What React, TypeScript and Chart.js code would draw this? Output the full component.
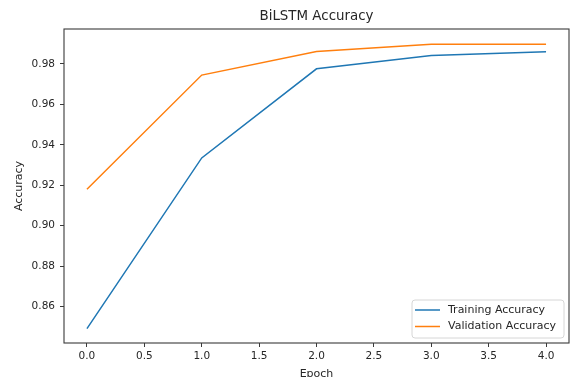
import React, { useEffect, useRef } from "react";
import { Chart, registerables } from "chart.js";

Chart.register(...registerables);

const epochs = [0, 1, 2, 3, 4];
const trainingAccuracy = [0.849, 0.9335, 0.9776, 0.9842, 0.9861];
const validationAccuracy = [0.918, 0.9745, 0.9862, 0.9897, 0.9898];
const xTicks = [0, 0.5, 1, 1.5, 2, 2.5, 3, 3.5, 4];
const yTicks = [0.86, 0.88, 0.9, 0.92, 0.94, 0.96, 0.98];
const chartTitle = "BiLSTM Accuracy";

const FONT = "'DejaVu Sans', sans-serif";
const TEXT = "#262626";
const SPINE = "#3a3a3a";

const framePlugin = {
  id: "frame",
  afterDraw(chart: any) {
    const { ctx, chartArea } = chart;
    const { left, top, right, bottom } = chartArea;
    ctx.save();
    ctx.strokeStyle = SPINE;
    ctx.lineWidth = 1.1;
    ctx.strokeRect(left, top, right - left, bottom - top);

    // title centred over the plot area
    ctx.font = `13.4px ${FONT}`;
    ctx.fillStyle = TEXT;
    ctx.textAlign = "center";
    ctx.textBaseline = "middle";
    ctx.fillText(chartTitle, (left + right) / 2, 17);

    // legend box, lower right inside the plot
    const boxW = 152;
    const boxH = 38;
    const bx = right - 5 - boxW;
    const by = bottom - 5 - boxH;
    const r = 3;
    ctx.beginPath();
    ctx.moveTo(bx + r, by);
    ctx.lineTo(bx + boxW - r, by);
    ctx.quadraticCurveTo(bx + boxW, by, bx + boxW, by + r);
    ctx.lineTo(bx + boxW, by + boxH - r);
    ctx.quadraticCurveTo(bx + boxW, by + boxH, bx + boxW - r, by + boxH);
    ctx.lineTo(bx + r, by + boxH);
    ctx.quadraticCurveTo(bx, by + boxH, bx, by + boxH - r);
    ctx.lineTo(bx, by + r);
    ctx.quadraticCurveTo(bx, by, bx + r, by);
    ctx.closePath();
    ctx.fillStyle = "rgba(255,255,255,0.8)";
    ctx.fill();
    ctx.strokeStyle = "#d6d6d6";
    ctx.lineWidth = 1;
    ctx.stroke();

    ctx.font = `11px ${FONT}`;
    ctx.textBaseline = "middle";
    ctx.textAlign = "left";
    chart.data.datasets.forEach((ds: any, i: number) => {
      const yy = by + 10 + i * 16.5;
      ctx.strokeStyle = ds.borderColor;
      ctx.lineWidth = 1.5;
      ctx.beginPath();
      ctx.moveTo(bx + 3, yy);
      ctx.lineTo(bx + 28, yy);
      ctx.stroke();
      ctx.fillStyle = TEXT;
      ctx.fillText(ds.label, bx + 36, yy);
    });
    ctx.restore();
  },
};

export default function App() {
  const ref = useRef<HTMLCanvasElement | null>(null);

  useEffect(() => {
    document.body.style.margin = "0";
    const canvas = ref.current;
    if (!canvas) return;
    const chart = new Chart(canvas, {
      type: "line",
      data: {
        datasets: [
          {
            label: "Training Accuracy",
            data: epochs.map((e, i) => ({ x: e, y: trainingAccuracy[i] })),
            borderColor: "#1f77b4",
            backgroundColor: "#1f77b4",
            borderWidth: 1.5,
            pointRadius: 0,
            tension: 0,
          },
          {
            label: "Validation Accuracy",
            data: epochs.map((e, i) => ({ x: e, y: validationAccuracy[i] })),
            borderColor: "#ff7f0e",
            backgroundColor: "#ff7f0e",
            borderWidth: 1.5,
            pointRadius: 0,
            tension: 0,
          },
        ],
      },
      options: {
        animation: false,
        responsive: false,
        devicePixelRatio: 1,
        layout: { padding: { left: 0, right: 2, top: 29, bottom: 0 } },
        plugins: {
          legend: { display: false },
          tooltip: { enabled: false },
          title: { display: false },
        },
        scales: {
          x: {
            type: "linear",
            min: -0.2,
            max: 4.2,
            afterBuildTicks: (scale: any) => {
              scale.ticks = xTicks.map((v) => ({ value: v }));
            },
            afterFit: (scale: any) => {
              scale.height = 34;
            },
            ticks: {
              color: TEXT,
              font: { family: FONT, size: 10.5 },
              padding: 3,
              maxRotation: 0,
              autoSkip: false,
              callback: (v: any) => Number(v).toFixed(1),
            },
            grid: {
              color: "rgba(0,0,0,0)",
              drawOnChartArea: false,
              drawTicks: true,
              tickLength: 4,
              tickColor: SPINE,
            },
            border: { display: false },
            title: {
              display: true,
              text: "Epoch",
              color: TEXT,
              font: { family: FONT, size: 11 },
              padding: { top: 0, bottom: -4 },
            },
          },
          y: {
            type: "linear",
            min: 0.8419,
            max: 0.9973,
            afterBuildTicks: (scale: any) => {
              scale.ticks = yTicks.map((v) => ({ value: v }));
            },
            afterFit: (scale: any) => {
              scale.width = 64;
            },
            ticks: {
              color: TEXT,
              font: { family: FONT, size: 10.5 },
              padding: 5,
              autoSkip: false,
              callback: (v: any) => Number(v).toFixed(2),
            },
            grid: {
              color: "rgba(0,0,0,0)",
              drawOnChartArea: false,
              drawTicks: true,
              tickLength: 4,
              tickColor: SPINE,
            },
            border: { display: false },
            title: {
              display: true,
              text: "Accuracy",
              color: TEXT,
              font: { family: FONT, size: 11 },
              padding: { top: 13, bottom: 0 },
            },
          },
        },
      },
      plugins: [framePlugin],
    } as any);
    return () => chart.destroy();
  }, []);

  return (
    <div style={{ width: 571, height: 377, background: "#fff" }}>
      <canvas ref={ref} width={571} height={377} style={{ display: "block" }} />
    </div>
  );
}
